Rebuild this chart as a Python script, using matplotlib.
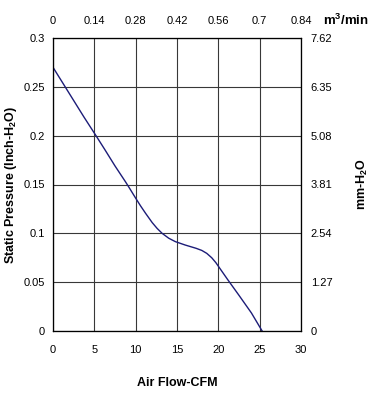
import numpy as np
import matplotlib
matplotlib.use('Agg')
import matplotlib.pyplot as plt

plt.rcParams['font.family'] = ['Liberation Sans', 'DejaVu Sans']
plt.rcParams['mathtext.fontset'] = 'custom'
plt.rcParams['mathtext.rm'] = 'Liberation Sans:bold'
plt.rcParams['mathtext.it'] = 'Liberation Sans:bold'
plt.rcParams['mathtext.bf'] = 'Liberation Sans:bold'

# curve (CFM, inch-H2O)
cfm = [0, 1.25, 2.5, 3.75, 5.2, 6.25, 7.5, 8.75, 9.2, 10, 10.6, 11.2, 12, 12.6, 13.2, 14, 14.8, 16, 17.3, 18, 18.6, 19.2, 19.7, 21.1, 22.5, 24, 25.3]
pressure = [0.27, 0.253, 0.236, 0.219, 0.2, 0.186, 0.169, 0.153, 0.147, 0.136, 0.128, 0.1205, 0.111, 0.105, 0.100, 0.095, 0.0915, 0.088, 0.0847, 0.0825, 0.0795, 0.0750, 0.0700, 0.053, 0.0365, 0.0185, 0.0]

x_ticks = [0, 5, 10, 15, 20, 25, 30]
y_ticks = [0, 0.05, 0.1, 0.15, 0.2, 0.25, 0.3]
top_labels = ['0', '0.14', '0.28', '0.42', '0.56', '0.7', '0.84']
right_labels = ['0', '1.27', '2.54', '3.81', '5.08', '6.35', '7.62']

fig = plt.figure(figsize=(3.78, 3.94), dpi=100)
ax = fig.add_axes([53/378, 1 - 331/394, 248/378, 293/394])

ax.plot(cfm, pressure, color='#1c1c78', lw=1.0, zorder=3)

ax.set_xlim(0, 30)
ax.set_ylim(0, 0.3)
ax.set_xticks(x_ticks)
ax.set_yticks(y_ticks)
ax.set_xticklabels([str(v) for v in x_ticks])
ax.set_yticklabels(['0', '0.05', '0.1', '0.15', '0.2', '0.25', '0.3'])
ax.grid(True, color='#383838', lw=0.8)
ax.tick_params(axis='y', length=0, labelsize=8, pad=6)
ax.tick_params(axis='x', length=0, labelsize=8, pad=10)
for s in ax.spines.values():
    s.set_color('#303030')
    s.set_linewidth(0.8)

ax2 = ax.twinx()
ax2.set_ylim(0, 0.3)
ax2.set_yticks(y_ticks)
ax2.set_yticklabels(right_labels)
ax2.tick_params(length=0, labelsize=8, pad=7)
ax2.set_ylabel('mm-H$_2$O', fontsize=9, fontweight='bold', va='center')
ax2.yaxis.set_label_coords((362 - 53) / 248, 0.5)

ax3 = ax.twiny()
ax3.set_xlim(0, 30)
ax3.set_xticks(x_ticks)
ax3.set_xticklabels(top_labels)
ax3.tick_params(length=0, labelsize=8, pad=9)
fig.text(346/378, 1 - 20/394, 'm$^3$/min', fontsize=9.5, fontweight='bold', ha='center', va='center')

ax.set_ylabel('Static Pressure (Inch-H$_2$O)', fontsize=9, fontweight='bold', va='center')
ax.yaxis.set_label_coords((11 - 53) / 248, 0.5)
ax.set_xlabel('Air Flow-CFM', fontsize=9, fontweight='bold', va='center')
ax.xaxis.set_label_coords(0.5, (331 - 383) / 293)

fig.savefig('out.png', dpi=100)
